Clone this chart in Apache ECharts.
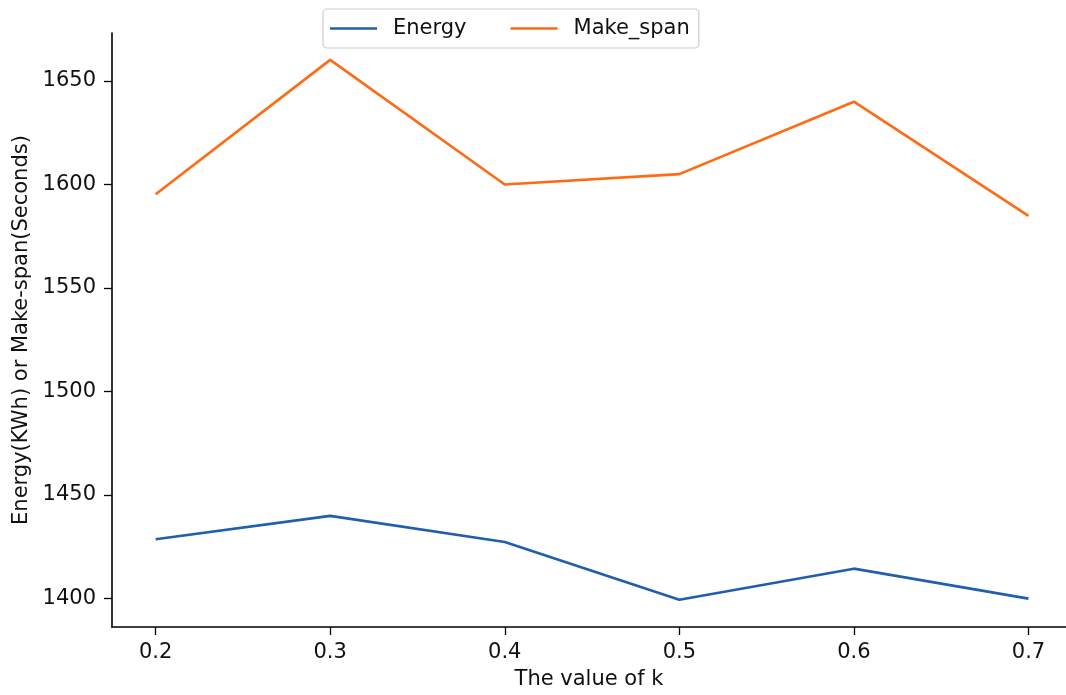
<!DOCTYPE html>
<html>
<head>
<meta charset="utf-8">
<script src="https://cdn.jsdelivr.net/npm/echarts@6/dist/echarts.min.js"></script>
<style>
html,body{margin:0;padding:0;background:#fff;}
#c{width:1066px;height:695px;}
</style>
</head>
<body>
<div id="c"></div>
<script>
var kValues = [0.2, 0.3, 0.4, 0.5, 0.6, 0.7];
var energy = [1428.5, 1439.8, 1427.2, 1399.3, 1414.3, 1399.8];
var makeSpan = [1595.3, 1660.2, 1600.0, 1605.0, 1640.0, 1584.8];
var xTicks = [0.2, 0.3, 0.4, 0.5, 0.6, 0.7];
var yTicks = [1400, 1450, 1500, 1550, 1600, 1650];

var font = 'DejaVu Sans';
var fs = 21;
function pairs(xs, ys){ return xs.map(function(x,i){ return [x, ys[i]]; }); }

var chart = echarts.init(document.getElementById('c'), null, {renderer:'canvas'});
chart.setOption({
  animation: false,
  backgroundColor: '#fff',
  textStyle: {fontFamily: font},
  grid: {left: 112, right: 0, top: 33, bottom: 65.5, containLabel: false},
  legend: {
    left: 323, top: 9,
    padding: [9, 9, 9, 7],
    borderColor: '#cccccc', borderWidth: 1.2, borderRadius: 4,
    icon: 'rect', itemWidth: 47, itemHeight: 2.5, itemGap: 44,
    textStyle: {fontFamily: font, fontSize: fs, color: '#111', padding: [0,0,0,11], lineHeight: 21},
    data: ['Energy', 'Make_span']
  },
  xAxis: {
    type: 'value', min: 0.175, max: 0.7215,
    name: 'The value of k', nameLocation: 'middle', nameGap: 42,
    nameTextStyle: {fontFamily: font, fontSize: fs, color: '#111'},
    axisLine: {show: true, onZero: false, lineStyle: {color: '#000', width: 1.6}},
    axisTick: {show: true, length: 8, inside: false, customValues: xTicks, lineStyle: {color: '#000', width: 1.3}},
    axisLabel: {customValues: xTicks, margin: 15, fontFamily: font, fontSize: fs, color: '#111',
      formatter: function(v){ return v.toFixed(1); }},
    splitLine: {show: false}
  },
  yAxis: {
    type: 'value', min: 1386.1, max: 1673.2,
    name: 'Energy(KWh) or Make-span(Seconds)', nameLocation: 'middle', nameGap: 76,
    nameRotate: 90,
    nameTextStyle: {fontFamily: font, fontSize: fs, color: '#111'},
    axisLine: {show: true, onZero: false, lineStyle: {color: '#000', width: 1.6}},
    axisTick: {show: true, length: 8, inside: false, customValues: yTicks, lineStyle: {color: '#000', width: 1.3}},
    axisLabel: {customValues: yTicks, margin: 16, fontFamily: font, fontSize: fs, color: '#111',
      formatter: function(v){ return String(v); }},
    splitLine: {show: false}
  },
  series: [
    {name: 'Energy', type: 'line', data: pairs(kValues, energy), symbol: 'none',
     lineStyle: {color: '#1f5fae', width: 2.6}, itemStyle: {color: '#1f5fae'}},
    {name: 'Make_span', type: 'line', data: pairs(kValues, makeSpan), symbol: 'none',
     lineStyle: {color: '#ff6a13', width: 2.6}, itemStyle: {color: '#ff6a13'}}
  ]
});
</script>
</body>
</html>
